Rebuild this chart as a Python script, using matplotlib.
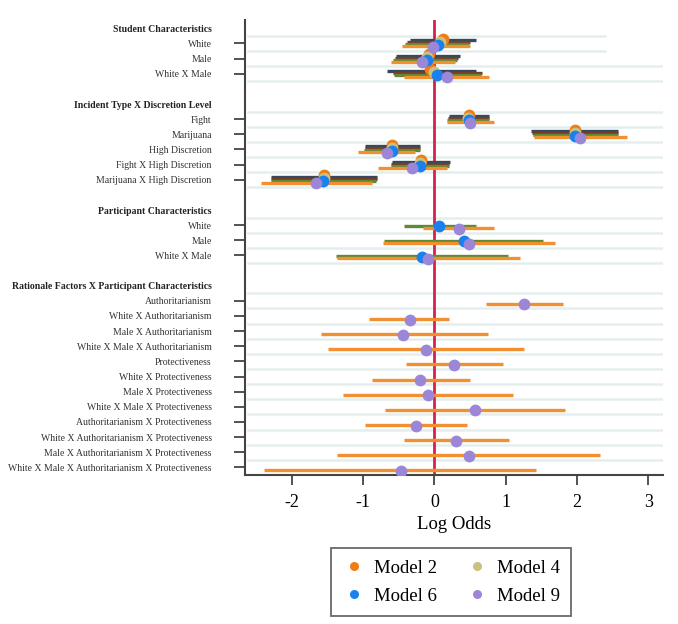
import matplotlib
matplotlib.use("Agg")
import matplotlib.pyplot as plt
import numpy as np
from matplotlib.lines import Line2D

nan = np.nan

# groups of coefficients (header, items)
group_headers = [
    "Student Characteristics",
    "Incident Type X Discretion Level",
    "Participant Characteristics",
    "Rationale Factors X Participant Characteristics",
]
group_items = [
    ["White", "Male", "White X Male"],
    ["Fight", "Marijuana", "High Discretion", "Fight X High Discretion",
     "Marijuana X High Discretion"],
    ["White", "Male", "White X Male"],
    ["Authoritarianism", "White X Authoritarianism", "Male X Authoritarianism",
     "White X Male X Authoritarianism", "Protectiveness",
     "White X Protectiveness", "Male X Protectiveness",
     "White X Male X Protectiveness", "Authoritarianism X Protectiveness",
     "White X Authoritarianism X Protectiveness",
     "Male X Authoritarianism X Protectiveness",
     "White X Male X Authoritarianism X Protectiveness"],
]

models = ["Model 2", "Model 4", "Model 6", "Model 9"]

# log-odds estimates, one value per item (23 items, nan = not in model)
est_m2 = [0.12, -0.08, -0.06, 0.48, 1.97, -0.60, -0.19, -1.55] + [nan] * 15
est_m4 = [0.08, -0.10, 0.00, 0.47, 1.97, -0.60, -0.20, -1.55] + [nan] * 15
est_m6 = [0.05, -0.10, 0.04, 0.48, 1.97, -0.60, -0.20, -1.56,
          0.07, 0.42, -0.18] + [nan] * 12
est_m9 = [-0.02, -0.18, 0.17, 0.50, 2.05, -0.67, -0.31, -1.66,
          0.34, 0.48, -0.09,
          1.26, -0.35, -0.44, -0.12, 0.28, -0.20, -0.09, 0.57, -0.26, 0.30, 0.48, -0.47]

lo_m2 = [-0.34, -0.54, -0.67, 0.20, 1.36, -0.98, -0.60, -2.29] + [nan] * 15
hi_m2 = [0.59, 0.36, 0.59, 0.76, 2.58, -0.21, 0.22, -0.81] + [nan] * 15
lo_m4 = [-0.39, -0.56, -0.58, 0.19, 1.37, -0.98, -0.61, -2.29] + [nan] * 15
hi_m4 = [0.50, 0.33, 0.67, 0.76, 2.58, -0.21, 0.21, -0.81] + [nan] * 15
lo_m6 = [-0.41, -0.58, -0.57, 0.18, 1.38, -0.99, -0.61, -2.30,
         -0.43, -0.71, -1.38] + [nan] * 12
hi_m6 = [0.48, 0.32, 0.66, 0.76, 2.57, -0.21, 0.21, -0.82,
         0.59, 1.53, 1.03] + [nan] * 12
lo_m9 = [-0.45, -0.61, -0.43, 0.17, 1.40, -1.07, -0.79, -2.44,
         -0.16, -0.72, -1.37,
         0.72, -0.92, -1.60, -1.50, -0.40, -0.88, -1.29, -0.70, -0.97, -0.43, -1.37, -2.39]
hi_m9 = [0.50, 0.29, 0.77, 0.83, 2.70, -0.27, 0.17, -0.88,
         0.84, 1.69, 1.20,
         1.80, 0.21, 0.75, 1.26, 0.96, 0.50, 1.10, 1.83, 0.45, 1.04, 2.33, 1.43]

estimates = [est_m2, est_m4, est_m6, est_m9]
lowers = [lo_m2, lo_m4, lo_m6, lo_m9]
uppers = [hi_m2, hi_m4, hi_m6, hi_m9]

marker_colors = ["#f07d12", "#c8c27e", "#1a80ee", "#9b86d8"]
ci_colors = ["#34495e", "#7a3b2c", "#5e8a34", "#f28f30"]
ci_offsets = [-0.2, -0.07, 0.07, 0.2]
pt_offsets = [-0.28, -0.1, 0.08, 0.24]

# row layout: header, items, blank line between groups
labels, rows, is_header, item_rows = [], [], [], []
r = 0
for h, items in zip(group_headers, group_items):
    labels.append(h); rows.append(r); is_header.append(True); r += 1
    for it in items:
        labels.append(it); rows.append(r); is_header.append(False)
        item_rows.append(r); r += 1
    r += 1
item_rows = np.array(item_rows, dtype=float)

plt.rcParams["font.family"] = ["Liberation Serif", "DejaVu Serif"]

fig = plt.figure(figsize=(6.78, 6.24), dpi=100)
ax = fig.add_axes([0.3614, 0.2388, 0.6166, 0.7292])

# light row separators
for rr in rows:
    if rr == rows[-1]:
        continue
    xmax = 0.86 if rr < 2 else 1.0
    ax.axhline(rr + 0.5, xmin=0.008, xmax=xmax, color="#e4eeee", lw=1.8, zorder=0)

ax.axvline(0, color="#d9204c", lw=2, zorder=1)

for k in range(len(models)):
    ax.hlines(item_rows + ci_offsets[k], lowers[k], uppers[k],
              color=ci_colors[k], lw=2.4, zorder=2)
for k in range(len(models)):
    ax.plot(estimates[k], item_rows + pt_offsets[k], "o", color=marker_colors[k],
            ms=8.5, mec="none", zorder=3)

ax.set_xlim(-2.66, 3.21)
ax.set_ylim(rows[-1] + 0.5, -0.55)
ax.set_xticks([-2, -1, 0, 1, 2, 3])
ax.set_xticklabels(["-2", "-1", "0", "1", "2", "3"])
ax.set_xlabel("Log Odds", fontsize=13.5, labelpad=3)

ax.set_yticks(rows)
ax.set_yticklabels(labels, fontsize=7.0, color="#333333")
for t, hdr in zip(ax.yaxis.get_major_ticks(), is_header):
    if hdr:
        t.tick1line.set_visible(False)
        t.label1.set_fontweight("bold")
        t.label1.set_color("#222222")

ax.tick_params(axis="y", length=8, width=1.3, color="#444444", pad=16)
ax.tick_params(axis="x", length=7, width=1.3, color="#444444", labelsize=13, pad=7)
for s in ["top", "right"]:
    ax.spines[s].set_visible(False)
for s in ["left", "bottom"]:
    ax.spines[s].set_color("#444444")
    ax.spines[s].set_linewidth(1.5)

order = [0, 2, 1, 3]
handles = [Line2D([], [], ls="none", marker="o", ms=6.5, mec="none",
                  color=marker_colors[k]) for k in order]
leg = fig.legend(handles, [models[k] for k in order], ncol=2,
                 loc="center", bbox_to_anchor=(0.665, 0.067), fontsize=13.5,
                 frameon=True, fancybox=False, edgecolor="#444444",
                 handletextpad=0.4, columnspacing=1.5, borderpad=0.6,
                 handlelength=1.3, labelspacing=0.6)
leg.get_frame().set_linewidth(1.3)

fig.savefig("out.png", dpi=100)
